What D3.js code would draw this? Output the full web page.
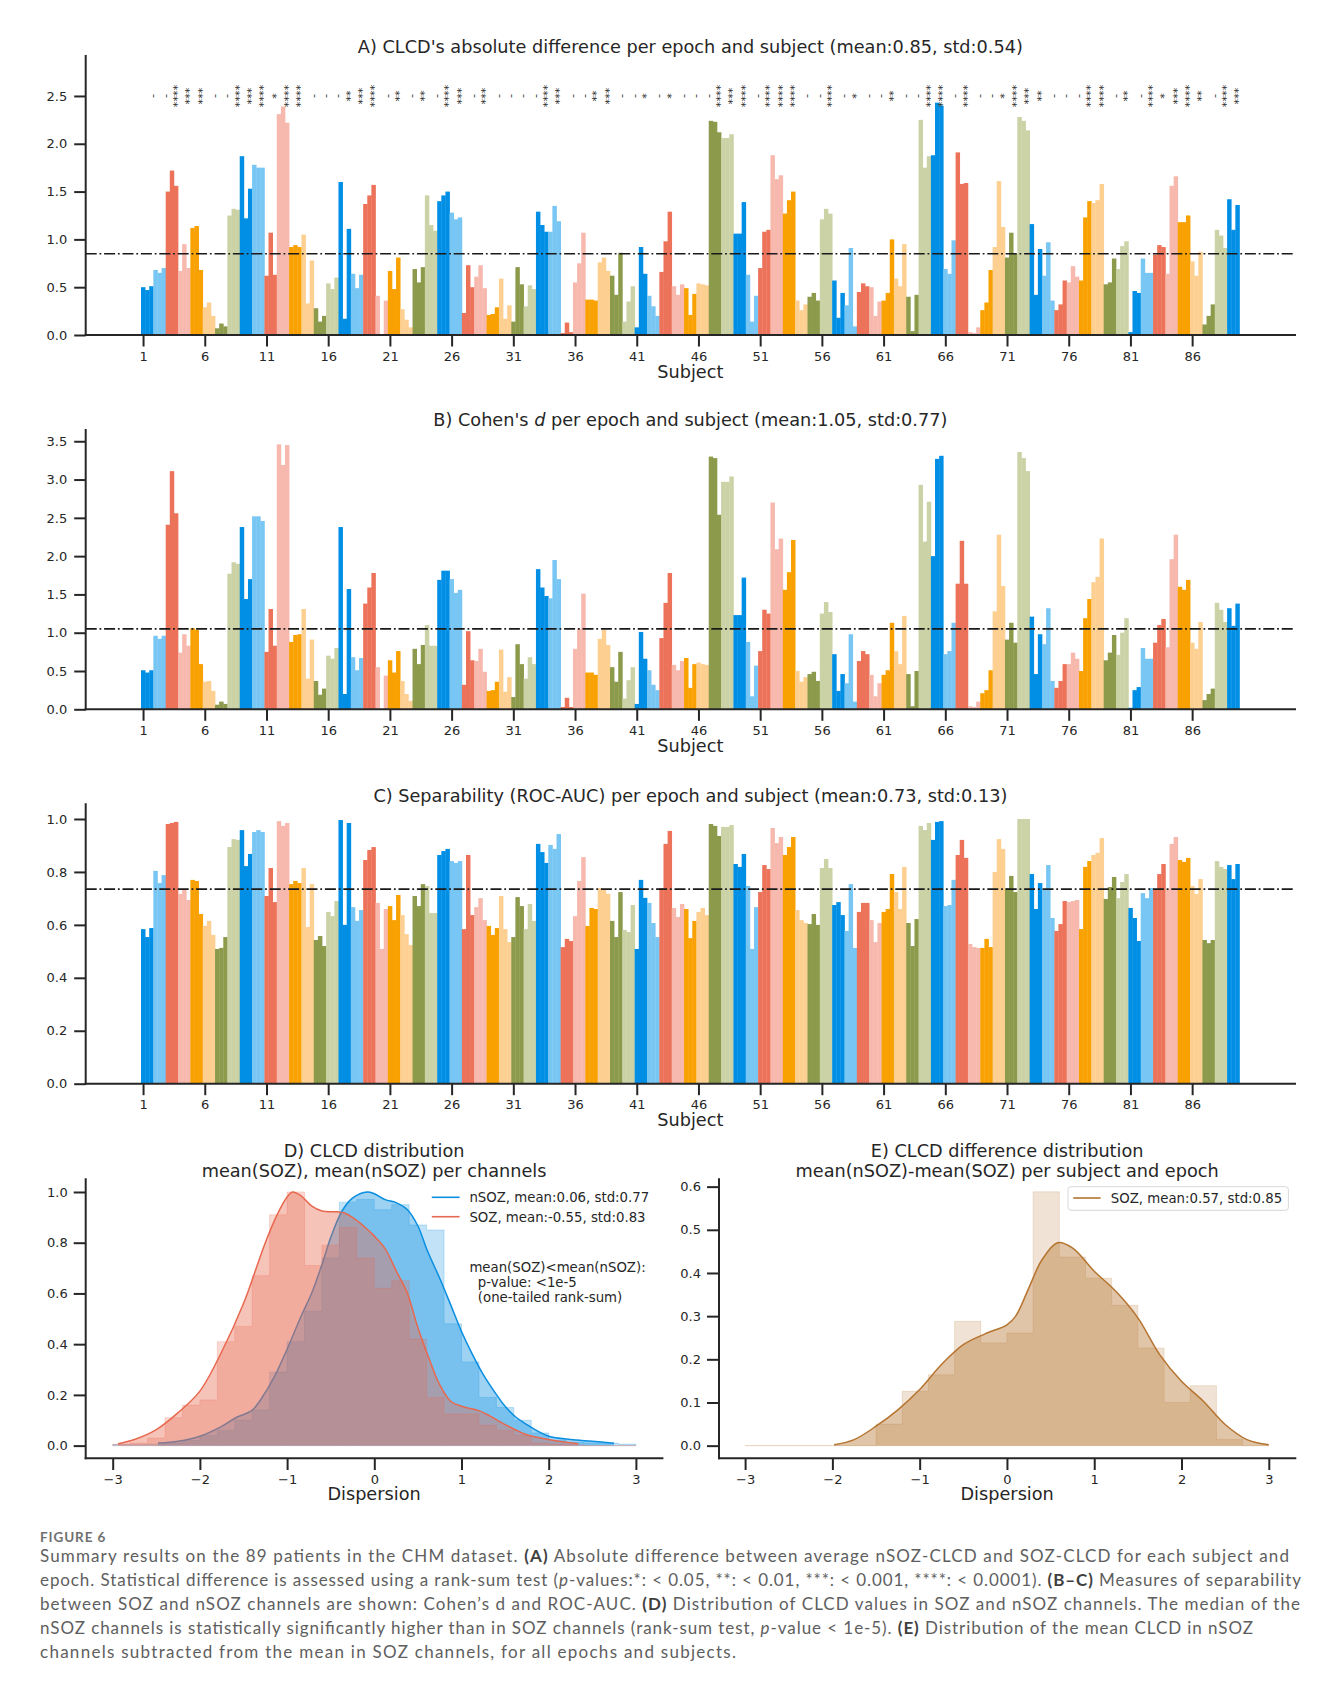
<!DOCTYPE html>
<html><head><meta charset="utf-8">
<script src="https://cdn.jsdelivr.net/npm/d3@7/dist/d3.min.js"></script>
<style>
html,body{margin:0;padding:0;background:#fff;}
</style></head><body>
<svg id="fig" width="1331" height="1682" xmlns="http://www.w3.org/2000/svg"></svg>
<script>
// ---------------- DATA ----------------
const epochs = [1, 2, 3];
const subjects = d3.range(1, 90);
const subjectTicks = d3.range(1, 90, 5);
const palette = ["#008fe5", "#78c6f3", "#ec735a", "#f7b9ad", "#f8a100", "#fdd091", "#8c9a4c", "#cad2a6"];

// A) |mean(nSOZ)-mean(SOZ)| per subject (3 epochs each)
const clcdDiff = [
[0.50,0.47,0.51],[0.68,0.65,0.70],[1.50,1.72,1.56],[0.67,0.95,0.70],[1.12,1.14,0.68],[0.29,0.34,0.20],[0.07,0.12,0.09],[1.25,1.32,1.31],
[1.87,1.22,1.53],[1.78,1.75,1.75],[0.62,1.07,0.63],[2.31,2.39,2.22],[0.92,0.94,0.92],[1.05,0.33,0.78],[0.28,0.14,0.20],[0.54,0.48,0.60],
[1.60,0.17,1.11],[0.64,0.49,0.63],[1.37,1.46,1.57],[0.41,0.00,0.36],[0.67,0.48,0.81],[0.27,0.16,0.08],[0.69,0.55,0.71],[1.46,1.15,1.09],
[1.40,1.46,1.50],[1.28,1.21,1.23],[0.23,0.73,0.50],[0.61,0.73,0.49],[0.21,0.22,0.29],[0.59,0.17,0.31],[0.14,0.71,0.53],[0.30,0.52,0.48],
[1.29,1.15,1.08],[1.08,1.35,1.19],[0.02,0.13,0.03],[0.55,0.75,1.07],[0.37,0.37,0.36],[0.76,0.81,0.67],[0.62,0.42,0.86],[0.14,0.35,0.51],
[0.08,0.92,0.64],[0.41,0.30,0.20],[0.66,0.98,1.29],[0.51,0.42,0.53],[0.49,0.21,0.43],[0.54,0.53,0.52],[2.24,2.23,2.12],[2.06,2.06,2.10],
[1.06,1.06,1.39],[0.63,0.14,0.41],[0.70,1.08,1.10],[1.88,1.63,1.67],[1.27,1.41,1.50],[0.36,0.26,0.32],[0.40,0.44,0.36],[1.21,1.32,1.27],
[0.57,0.18,0.44],[0.31,0.91,0.09],[0.45,0.54,0.51],[0.50,0.20,0.35],[0.36,0.44,1.00],[0.59,0.51,0.95],[0.40,0.04,0.42],[2.25,1.75,1.87],
[1.88,2.43,2.40],[0.69,0.64,0.99],[1.91,1.58,1.59],[0.03,0.02,0.08],[0.26,0.34,0.68],[0.92,1.61,1.13],[0.81,1.07,0.85],[2.28,2.24,2.14],
[1.16,0.42,0.90],[0.62,0.97,0.36],[0.26,0.32,0.57],[0.55,0.72,0.61],[0.57,1.23,1.40],[1.38,1.41,1.58],[0.53,0.55,0.80],[0.69,0.93,0.98],
[0.03,0.46,0.44],[0.80,0.65,0.65],[0.84,0.94,0.92],[0.64,1.56,1.66],[1.18,1.18,1.25],[0.77,0.62,0.87],[0.11,0.20,0.32],[1.10,1.04,0.91],
[1.42,1.10,1.36]];

// B) Cohen's d
const cohenD = [
[0.51,0.48,0.51],[0.96,0.92,0.96],[2.41,3.11,2.56],[0.74,0.98,0.83],[1.06,1.04,0.59],[0.36,0.37,0.24],[0.06,0.10,0.07],[1.77,1.92,1.90],
[2.38,1.44,1.70],[2.52,2.52,2.46],[0.75,1.31,0.83],[3.46,3.19,3.45],[0.88,0.97,0.98],[1.31,0.40,0.91],[0.37,0.19,0.27],[0.70,0.66,0.80],
[2.38,0.20,1.57],[0.68,0.51,0.67],[1.38,1.59,1.78],[0.55,0.00,0.44],[0.64,0.48,0.76],[0.37,0.20,0.11],[0.79,0.59,0.84],[1.10,0.83,0.83],
[1.69,1.81,1.81],[1.70,1.52,1.56],[0.32,1.02,0.64],[0.63,0.79,0.49],[0.24,0.25,0.36],[0.78,0.23,0.42],[0.16,0.85,0.59],[0.40,0.68,0.59],
[1.83,1.59,1.48],[1.45,1.95,1.70],[0.03,0.15,0.03],[0.79,1.05,1.51],[0.48,0.48,0.45],[0.92,1.04,0.84],[0.55,0.36,0.75],[0.14,0.38,0.55],
[0.07,1.01,0.66],[0.51,0.32,0.25],[0.93,1.39,1.78],[0.58,0.51,0.63],[0.67,0.28,0.59],[0.61,0.59,0.58],[3.30,3.28,2.54],[2.97,2.97,3.04],
[1.23,1.23,1.72],[0.88,0.17,0.57],[0.76,1.30,1.25],[2.70,2.09,2.23],[1.56,1.79,2.21],[0.50,0.36,0.42],[0.46,0.49,0.37],[1.25,1.40,1.27],
[0.72,0.24,0.46],[0.34,0.98,0.10],[0.63,0.76,0.72],[0.45,0.17,0.34],[0.45,0.51,1.13],[0.76,0.59,1.22],[0.46,0.04,0.50],[2.93,2.19,2.71],
[2.00,3.27,3.31],[0.72,0.76,1.13],[1.64,2.20,1.64],[0.04,0.03,0.10],[0.21,0.25,0.51],[1.28,2.28,1.61],[0.91,1.13,0.87],[3.36,3.28,3.11],
[1.21,0.46,0.98],[0.85,1.32,0.37],[0.28,0.37,0.59],[0.59,0.74,0.66],[0.50,1.19,1.44],[1.66,1.73,2.23],[0.64,0.74,0.97],[0.71,1.00,1.19],
[0.02,0.25,0.29],[0.80,0.66,0.66],[0.87,1.10,1.18],[0.81,1.96,2.28],[1.60,1.56,1.69],[0.87,0.79,1.14],[0.12,0.20,0.27],[1.39,1.30,1.14],
[1.32,1.09,1.38]];

// C) ROC-AUC
const rocAuc = [
[0.584,0.554,0.588],[0.804,0.758,0.788],[0.981,0.985,0.989],[0.717,0.736,0.694],[0.770,0.766,0.641],[0.596,0.615,0.562],[0.509,0.513,0.554],[0.894,0.924,0.921],
[0.958,0.822,0.868],[0.951,0.958,0.951],[0.709,0.815,0.686],[0.992,0.974,0.985],[0.754,0.766,0.758],[0.815,0.592,0.754],[0.543,0.558,0.520],[0.649,0.633,0.690],
[0.996,0.600,0.985],[0.667,0.615,0.656],[0.845,0.883,0.894],[0.683,0.509,0.660],[0.671,0.618,0.713],[0.637,0.565,0.524],[0.709,0.671,0.754],[0.747,0.645,0.645],
[0.864,0.879,0.887],[0.841,0.834,0.841],[0.584,0.864,0.637],[0.667,0.701,0.618],[0.596,0.562,0.588],[0.709,0.584,0.535],[0.554,0.705,0.671],[0.584,0.679,0.615],
[0.906,0.875,0.834],[0.902,0.887,0.943],[0.516,0.547,0.539],[0.633,0.766,0.856],[0.596,0.664,0.660],[0.739,0.732,0.717],[0.615,0.554,0.724],[0.581,0.573,0.675],
[0.509,0.770,0.702],[0.683,0.607,0.554],[0.739,0.906,0.955],[0.664,0.630,0.679],[0.660,0.550,0.615],[0.649,0.664,0.637],[0.981,0.974,0.936],[0.970,0.970,0.977],
[0.830,0.819,0.868],[0.747,0.509,0.667],[0.724,0.826,0.811],[0.966,0.909,0.932],[0.864,0.894,0.932],[0.656,0.618,0.607],[0.603,0.641,0.600],[0.815,0.849,0.815],
[0.675,0.686,0.637],[0.577,0.754,0.513],[0.649,0.683,0.683],[0.618,0.535,0.607],[0.649,0.660,0.792],[0.724,0.660,0.819],[0.607,0.520,0.622],[0.974,0.958,0.985],
[0.921,0.989,0.992],[0.671,0.675,0.770],[0.864,0.921,0.853],[0.528,0.516,0.513],[0.513,0.547,0.516],[0.800,0.924,0.887],[0.739,0.785,0.724],[1.000,1.000,1.000],
[0.792,0.660,0.758],[0.732,0.826,0.626],[0.577,0.603,0.690],[0.686,0.690,0.694],[0.584,0.819,0.841],[0.864,0.872,0.928],[0.698,0.743,0.781],[0.701,0.762,0.792],
[0.664,0.626,0.539],[0.720,0.701,0.739],[0.736,0.792,0.830],[0.736,0.906,0.932],[0.845,0.838,0.853],[0.747,0.717,0.773],[0.543,0.531,0.543],[0.841,0.819,0.811],
[0.826,0.773,0.830]];

// significance label per subject (panel A)
const sigLabels = ["-","-","****","***","***","-","-","****","***","****","*","****","****","-","-","-",
"**","***","****","-","**","-","**","-","****","***","-","***","-","-","-","-",
"****","***","-","-","**","***","-","-","*","-","*","-","-","-","****","***",
"****","-","****","****","****","-","-","****","-","*","-","-","**","-","-","****",
"****","-","****","-","-","*","****","***","**","-","-","-","****","****","-","**",
"-","****","*","***","****","**","-","****","***"];

const meanLines = [0.85, 1.05, 0.735];
const panelTitles = ["A) CLCD's absolute difference per epoch and subject (mean:0.85, std:0.54)",
  "B) Cohen's |d| per epoch and subject (mean:1.05, std:0.77)",
  "C) Separability (ROC-AUC) per epoch and subject (mean:0.73, std:0.13)"];
const ticksA = [0, 0.5, 1.0, 1.5, 2.0, 2.5];
const ticksB = [0, 0.5, 1.0, 1.5, 2.0, 2.5, 3.0, 3.5];
const ticksC = [0, 0.2, 0.4, 0.6, 0.8, 1.0];

// D) histogram (bins of 0.2 from -3 to 3) and KDE
const histEdgesD = d3.range(0, 31).map(i => -3 + i * 0.2);
const nsozHist = [0.004,0.004,0.006,0.01,0.02,0.04,0.06,0.10,0.14,0.29,0.41,0.53,0.74,0.96,0.97,0.93,0.95,0.87,0.85,0.48,0.33,0.19,0.15,0.10,0.05,0.02,0.012,0.01,0.01,0.006];
const sozHist = [0.005,0.01,0.03,0.11,0.16,0.18,0.41,0.47,0.67,0.91,1.0,0.71,0.79,0.86,0.74,0.62,0.65,0.42,0.19,0.125,0.125,0.08,0.06,0.04,0.01,0.005,0.003,0,0,0];
const nsozKdeX = [-2.48,-2.25,-2.0,-1.75,-1.59,-1.4,-1.25,-1.12,-1.0,-0.84,-0.72,-0.6,-0.5,-0.37,-0.25,-0.08,0,0.125,0.25,0.38,0.5,0.61,0.75,0.875,1.0,1.125,1.25,1.375,1.5,1.625,1.75,1.875,2.0,2.25,2.5,2.75];
const nsozKdeY = [0.01,0.017,0.037,0.076,0.11,0.14,0.21,0.29,0.38,0.51,0.60,0.714,0.82,0.925,0.976,1.0,0.993,0.97,0.958,0.93,0.866,0.767,0.66,0.556,0.45,0.36,0.28,0.214,0.155,0.112,0.083,0.057,0.037,0.024,0.017,0.009];
const sozKdeX = [-2.94,-2.75,-2.5,-2.25,-2.0,-1.75,-1.5,-1.25,-1.115,-1.0,-0.94,-0.84,-0.72,-0.6,-0.42,-0.35,-0.25,-0.08,0,0.125,0.25,0.38,0.5,0.61,0.75,0.875,1.0,1.2,1.33,1.5,1.75,2.0,2.34];
const sozKdeY = [0.007,0.024,0.063,0.13,0.215,0.37,0.56,0.80,0.91,0.98,1.0,0.985,0.945,0.925,0.922,0.918,0.90,0.853,0.826,0.776,0.69,0.60,0.465,0.36,0.24,0.175,0.155,0.138,0.116,0.083,0.043,0.024,0.007];
const legendD = ["nSOZ, mean:0.06, std:0.77", "SOZ, mean:-0.55, std:0.83"];
const noteD = ["mean(SOZ)<mean(nSOZ):", "  p-value: <1e-5", "  (one-tailed rank-sum)"];
const ticksD = [0, 0.2, 0.4, 0.6, 0.8, 1.0];

// E) histogram (bins of 0.3 from -3 to 3) and KDE
const histEdgesE = d3.range(0, 21).map(i => -3 + i * 0.3);
const diffHist = [0,0,0,0,0,0.05,0.126,0.164,0.288,0.238,0.261,0.588,0.437,0.388,0.325,0.226,0.10,0.139,0.014,0];
const diffKdeX = [-1.98,-1.75,-1.5,-1.25,-1.0,-0.75,-0.5,-0.25,0,0.1,0.25,0.4,0.58,0.75,1.0,1.25,1.5,1.75,2.0,2.25,2.5,2.75,3.0];
const diffKdeY = [0.002,0.014,0.045,0.083,0.13,0.188,0.234,0.259,0.28,0.30,0.365,0.43,0.47,0.458,0.404,0.357,0.296,0.211,0.149,0.103,0.049,0.014,0.002];
const legendE = ["SOZ, mean:0.57, std:0.85"];
const ticksE = [0, 0.1, 0.2, 0.3, 0.4, 0.5, 0.6];
const ticksX = [-3, -2, -1, 0, 1, 2, 3];

// ---------------- DRAWING ----------------
const svg = d3.select("#fig").attr("font-family", "DejaVu Sans");
const INK = "#262626";
const FS_TICK = 13, FS_LAB = 17.7;

function styleAxis(sel) {
  sel.attr("font-family", "DejaVu Sans").attr("font-size", FS_TICK);
  sel.select(".domain").remove();
  sel.selectAll(".tick line").attr("stroke", INK).attr("stroke-width", 2);
  sel.selectAll(".tick text").attr("fill", INK);
}

function spines(g, xl, xr, yt, yb) {
  g.append("line").attr("x1", xl).attr("x2", xl).attr("y1", yt).attr("y2", yb)
    .attr("stroke", INK).attr("stroke-width", 2).attr("stroke-linecap", "square");
  g.append("line").attr("x1", xl).attr("x2", xr).attr("y1", yb).attr("y2", yb)
    .attr("stroke", INK).attr("stroke-width", 2).attr("stroke-linecap", "square");
}

function barPanel(o) {
  const g = svg.append("g");
  const XL = 85.7, XR = 1295;
  const nE = epochs.length;
  const x = d3.scaleLinear().domain([-13.44, 280.5]).range([XL, XR]);
  const y = d3.scaleLinear().domain([0, o.yMax]).range([o.y0, o.yTop]);
  const bars = o.values.flatMap((vals, si) => vals.map((v, ei) => ({ si, idx: si * nE + ei, v })));
  const bw = x(1) - x(0);
  g.append("g").selectAll("rect").data(bars).join("rect")
    .attr("x", d => x(d.idx)).attr("width", bw + 0.35)
    .attr("y", d => y(d.v)).attr("height", d => y(0) - y(d.v))
    .attr("fill", d => palette[d.si % palette.length]);
  g.append("line").attr("x1", XL).attr("x2", XR).attr("y1", y(o.mean)).attr("y2", y(o.mean))
    .attr("stroke", "#1a1a1a").attr("stroke-width", 1.7).attr("stroke-dasharray", "11,2.8,1.8,2.8");
  const ya = g.append("g").attr("transform", `translate(${XL},0)`)
    .call(d3.axisLeft(y).tickValues(o.ticks).tickFormat(d3.format(".1f")).tickSize(11.5).tickPadding(7));
  styleAxis(ya);
  const xa = g.append("g").attr("transform", `translate(0,${o.y0})`)
    .call(d3.axisBottom(x).tickValues(subjectTicks.map(s => (s - 1) * nE + 0.5))
      .tickFormat((d, i) => subjectTicks[i]).tickSize(11.5).tickPadding(5));
  styleAxis(xa);
  spines(g, XL, XR, o.yTop, o.y0);
  const parts = o.title.split("|");
  const t = g.append("text").attr("x", (XL + XR) / 2).attr("y", o.titleY).attr("text-anchor", "middle")
    .attr("font-size", FS_LAB).attr("fill", INK);
  parts.forEach((p, i) => t.append("tspan").attr("font-style", i % 2 ? "italic" : "normal").text(p));
  g.append("text").attr("x", (XL + XR) / 2).attr("y", o.y0 + 42.5).attr("text-anchor", "middle")
    .attr("font-size", FS_LAB).attr("fill", INK).text("Subject");
  if (o.sig) {
    g.append("g").selectAll("text").data(o.sig).join("text")
      .attr("transform", (d, i) => `translate(${x(i * nE + nE / 2) + 9},${y(2.5)}) rotate(-90)`)
      .attr("text-anchor", "middle").attr("font-size", 11.3).attr("fill", "#333").text(d => d);
  }
}

barPanel({ values: clcdDiff, yMax: 2.918, y0: 335, yTop: 56, ticks: ticksA, mean: meanLines[0], title: panelTitles[0], titleY: 53.3, sig: sigLabels });
barPanel({ values: cohenD, yMax: 3.647, y0: 709.3, yTop: 430, ticks: ticksB, mean: meanLines[1], title: panelTitles[1], titleY: 425.7 });
barPanel({ values: rocAuc, yMax: 1.0555, y0: 1083.7, yTop: 804.3, ticks: ticksC, mean: meanLines[2], title: panelTitles[2], titleY: 802.3 });

// ----- distribution panels -----
function stepPoints(edges, h) {
  const pts = h.map((v, i) => [edges[i], v]);
  pts.push([edges[edges.length - 1], h[h.length - 1]]);
  return pts;
}
function distAxes(g, x, y, XL, XR, yTicks, titles) {
  const YT = 1179.3, YB = 1458.3;
  const ya = g.append("g").attr("transform", `translate(${XL},0)`)
    .call(d3.axisLeft(y).tickValues(yTicks).tickFormat(d3.format(".1f")).tickSize(12).tickPadding(6));
  styleAxis(ya);
  const xa = g.append("g").attr("transform", `translate(0,${YB})`)
    .call(d3.axisBottom(x).tickValues(ticksX).tickFormat(d3.format("d")).tickSize(11.7).tickPadding(5));
  styleAxis(xa);
  spines(g, XL, XR, YT, YB);
  const cx = (XL + XR) / 2;
  g.append("text").attr("x", cx).attr("y", 1156.7).attr("text-anchor", "middle").attr("font-size", FS_LAB).attr("fill", INK).text(titles[0]);
  g.append("text").attr("x", cx).attr("y", 1176.7).attr("text-anchor", "middle").attr("font-size", FS_LAB).attr("fill", INK).text(titles[1]);
  g.append("text").attr("x", cx).attr("y", 1500.3).attr("text-anchor", "middle").attr("font-size", FS_LAB).attr("fill", INK).text("Dispersion");
}
function drawDist(g, x, y, edges, hist, kx, ky, color, hAlpha, kAlpha) {
  const sp = stepPoints(edges, hist);
  g.append("path").datum(sp)
    .attr("d", d3.area().curve(d3.curveStepAfter).x(d => x(d[0])).y0(y(0)).y1(d => y(d[1])))
    .attr("fill", color).attr("fill-opacity", hAlpha).attr("stroke", color).attr("stroke-opacity", hAlpha * 0.9).attr("stroke-width", 1);
  const kd = kx.map((v, i) => [v, ky[i]]);
  const cur = d3.curveCatmullRom.alpha(0.5);
  g.append("path").datum(kd)
    .attr("d", d3.area().curve(cur).x(d => x(d[0])).y0(y(0)).y1(d => y(d[1])))
    .attr("fill", color).attr("fill-opacity", kAlpha);
  g.append("path").datum(kd)
    .attr("d", d3.line().curve(cur).x(d => x(d[0])).y(d => y(d[1])))
    .attr("fill", "none").attr("stroke", color).attr("stroke-width", 1.5);
}

// Panel D
{
  const g = svg.append("g");
  const x = d3.scaleLinear().domain([-3, 3]).range([112.7, 635.9]);
  const y = d3.scaleLinear().domain([-0.05, 1.05]).range([1458.3, 1179.3]);
  const cN = "#0a8ee0", cS = "#e8684f";
  drawDist(g, x, y, histEdgesD, nsozHist, nsozKdeX, nsozKdeY, cN, 0.25, 0.4);
  drawDist(g, x, y, histEdgesD, sozHist, sozKdeX, sozKdeY, cS, 0.25, 0.4);
  distAxes(g, x, y, 85.7, 662.4, ticksD, ["D) CLCD distribution", "mean(SOZ), mean(nSOZ) per channels"]);
  [cN, cS].forEach((c, i) => {
    const yy = 1197.3 + i * 19.4;
    g.append("line").attr("x1", 431.8).attr("x2", 459.6).attr("y1", yy).attr("y2", yy).attr("stroke", c).attr("stroke-width", 1.6);
    g.append("text").attr("x", 469.4).attr("y", yy + 4.8).attr("font-size", 13.3).attr("fill", INK).text(legendD[i]);
  });
  noteD.forEach((s, i) => {
    g.append("text").attr("x", 469.4).attr("y", 1271.7 + i * 15).attr("font-size", 13.3).attr("fill", INK)
      .style("white-space", "pre").text(s);
  });
}

// Panel E
{
  const g = svg.append("g");
  const x = d3.scaleLinear().domain([-3, 3]).range([745.1, 1268.8]);
  const y = d3.scaleLinear().domain([-0.0293, 0.617]).range([1458.3, 1179.3]);
  const cE = "#b5742f";
  drawDist(g, x, y, histEdgesE, diffHist, diffKdeX, diffKdeY, cE, 0.2, 0.42);
  distAxes(g, x, y, 719, 1295.3, ticksE, ["E) CLCD difference distribution", "mean(nSOZ)-mean(SOZ) per subject and epoch"]);
  g.append("rect").attr("x", 1068).attr("y", 1186.7).attr("width", 220.4).attr("height", 23.6).attr("rx", 3)
    .attr("fill", "#fff").attr("fill-opacity", 0.85).attr("stroke", "#d8d8d8").attr("stroke-width", 1);
  g.append("line").attr("x1", 1073.3).attr("x2", 1100.6).attr("y1", 1198).attr("y2", 1198).attr("stroke", cE).attr("stroke-width", 1.6);
  g.append("text").attr("x", 1110.8).attr("y", 1202.8).attr("font-size", 13.3).attr("fill", INK).text(legendE[0]);
}

// ----- caption -----
const captionLines = [
  [["Summary results on the 89 patients in the CHM dataset. ", ""], ["(A)", "b"], [" Absolute difference between average nSOZ-CLCD and SOZ-CLCD for each subject and", ""]],
  [["epoch. Statistical difference is assessed using a rank-sum test (", ""], ["p", "i"], ["-values:*: < 0.05, **: < 0.01, ***: < 0.001, ****: < 0.0001). ", ""], ["(B–C)", "b"], [" Measures of separability", ""]],
  [["between SOZ and nSOZ channels are shown: Cohen’s d and ROC-AUC. ", ""], ["(D)", "b"], [" Distribution of CLCD values in SOZ and nSOZ channels. The median of the", ""]],
  [["nSOZ channels is statistically significantly higher than in SOZ channels (rank-sum test, ", ""], ["p", "i"], ["-value < 1e-5). ", ""], ["(E)", "b"], [" Distribution of the mean CLCD in nSOZ", ""]],
  [["channels subtracted from the mean in SOZ channels, for all epochs and subjects.", ""]]
];
const captionWidths = [1249, 1261, 1260, 1213, 696];
svg.append("text").attr("x", 40).attr("y", 1541.7).attr("font-family", "Lato").attr("font-weight", 700)
  .attr("font-size", 13.5).attr("letter-spacing", 0.9).attr("fill", "#707070").text("FIGURE 6");
captionLines.forEach((line, li) => {
  const t = svg.append("text").attr("x", 40).attr("y", 1562 + li * 24.1)
    .attr("font-family", "Lato").attr("font-size", 17).attr("fill", "#5e5e5e")
    .attr("textLength", captionWidths[li]).attr("lengthAdjust", "spacing");
  line.forEach(([s, st]) => {
    const ts = t.append("tspan").text(s);
    if (st === "b") ts.attr("font-weight", 700).attr("fill", "#404040");
    if (st === "i") ts.attr("font-style", "italic");
  });
});
</script></body></html>
